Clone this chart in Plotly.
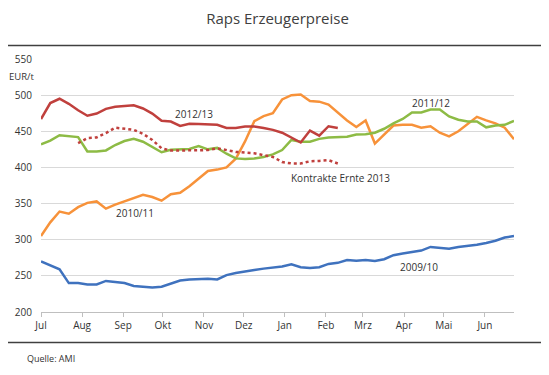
import pandas as pd
import plotly.graph_objects as go

# weekly observations, marketing year July -> June (reference year without leap day)
weeks = pd.date_range("2009-07-01", periods=52, freq="7D")

y2009_10 = [270, 264, 259, 240, 240, 238, 238, 243, 242, 240, 236, 235, 234, 235, 239, 243.5,
            245, 246, 246, 245, 251, 254, 256.5, 258, 260, 261, 263, 266, 262, 261, 262, 266.5,
            268, 272, 271, 272, 270.5, 273, 278.6, 281, 282.5, 285, 290, 288.5, 287.5, 290, 291,
            293, 295.5, 298.6, 303, 305]
y2010_11 = [305, 324, 339, 336, 345, 351, 353, 343, 348.5, 353, 357, 362, 359, 354, 363, 365,
            374, 384, 395, 397, 400, 412, 436, 464, 471, 475, 494, 500, 501, 492, 491, 487,
            476, 465, 456, 465, 433, 446, 458, 459, 459, 455, 457, 448, 443, 450, 460, 470,
            465, 461, 455, 439]
y2011_12 = [432, 437, 444.5, 443, 442, 422, 422, 423.5, 431, 436.5, 439.5, 435.5, 428, 421, 424.5,
            425.5, 425.5, 429.5, 425, 427, 419, 412.5, 411.5, 412.5, 414.5, 418, 424, 438, 435.5,
            435.5, 439.5, 441.5, 441.5, 442.5, 445.5, 446, 448, 453.5, 461, 467, 476, 476, 480,
            480, 470.5, 466, 463.5, 463.5, 455.5, 458, 459, 464.5]
y2012_13 = [467, 489, 495, 488, 479, 471.5, 474.5, 481, 484, 485, 486, 481.5, 474.5, 464.5, 463.5,
            457.5, 460.5, 460, 459, 459, 454.5, 454.5, 456.5, 456.5, 454.5, 452, 448, 441.5, 434.5,
            451, 444, 457, 454.5]
kontrakte_2013 = [None, None, None, None, 433.5, 440.5, 441.5, 447.5, 455, 453.5, 452, 446.5, 438,
                  426.5, 423.5, 423.5, 423.5, 424, 424, 426.5, 424, 421.5, 420.5, 419.5, 417, 414.5,
                  407.5, 405.5, 405.5, 408.5, 409, 410, 405.5]

month_starts = pd.date_range("2009-07-01", periods=12, freq="MS")
month_labels = ["Jul", "Aug", "Sep", "Okt", "Nov", "Dez", "Jan", "Feb", "Mrz", "Apr", "Mai", "Jun"]
y_ticks = [200, 250, 300, 350, 400, 450, 500, 550]

series = [
    ("2009/10", y2009_10, "#3F72BE", "solid"),
    ("2010/11", y2010_11, "#F7923A", "solid"),
    ("2011/12", y2011_12, "#8DBB45", "solid"),
    ("2012/13", y2012_13, "#C0403D", "solid"),
    ("Kontrakte Ernte 2013", kontrakte_2013, "#C0403D", "dot"),
]

fig = go.Figure()
for name, vals, color, dash in series:
    fig.add_trace(go.Scatter(
        x=weeks[:len(vals)], y=vals, name=name, mode="lines",
        line=dict(color=color, width=2.5, dash=dash),
        connectgaps=False, showlegend=False,
    ))

txt = "#333333"
labels = [
    ("2012/13", 0.3226, 473.5),
    ("2011/12", 0.824, 489),
    ("Kontrakte Ernte 2013", 0.634, 385.3),
    ("2010/11", 0.198, 337.4),
    ("2009/10", 0.80, 262),
]
for t, xp, yv in labels:
    fig.add_annotation(text=t, xref="paper", x=xp, yref="y", y=yv, showarrow=False,
                       xanchor="center", yanchor="middle", font=dict(size=10, color=txt))

fig.add_annotation(text="EUR/t", xref="paper", x=-0.0095, yref="y", y=526.3, showarrow=False,
                   xanchor="right", yanchor="middle", xshift=0,
                   font=dict(size=9.5, color=txt))
fig.add_annotation(text="Quelle: AMI", xref="paper", x=-0.033, yref="paper", y=-0.185,
                   showarrow=False, xanchor="left", yanchor="middle", font=dict(size=9, color=txt))

# page has an 8px body margin: figure is drawn from (8, 8) in the window
OFF = 8
W, H = 549 - OFF, 375 - OFF
for ypix in (45, 343):
    yp = (312.4 - ypix) / 253.9
    fig.add_shape(type="line", xref="paper", yref="paper", x0=-0.1, x1=1.1, y0=yp, y1=yp,
                  line=dict(color="#404040", width=1.6))

fig.update_layout(
    width=W, height=H,
    margin=dict(l=40.7 - OFF, r=34.7, t=58.5 - OFF, b=62.6, autoexpand=False),
    paper_bgcolor="white", plot_bgcolor="white",
    font=dict(family="Open Sans", size=10, color=txt),
    title=dict(text="Raps Erzeugerpreise", x=0.5, xref="paper", xanchor="center",
               y=1 - (19 - OFF) / H, yref="container", yanchor="middle",
               font=dict(size=15, color="#404040")),
    xaxis=dict(
        type="date", range=["2009-07-01", "2010-06-23"],
        tickvals=list(month_starts), ticktext=month_labels,
        showgrid=False, zeroline=False,
        showline=True, linecolor="#BFBFBF", linewidth=1.2,
        ticks="outside", ticklen=4, tickcolor="#BFBFBF", tickwidth=1,
        tickfont=dict(size=10, color=txt),
    ),
    yaxis=dict(
        range=[200, 550], tickvals=y_ticks,
        showgrid=True, gridcolor="#D9D9D9", gridwidth=1,
        zeroline=False, showline=False, ticks="",
        ticklabelstandoff=8,
        tickfont=dict(size=10, color=txt),
    ),
)

fig.write_html("out.html")
